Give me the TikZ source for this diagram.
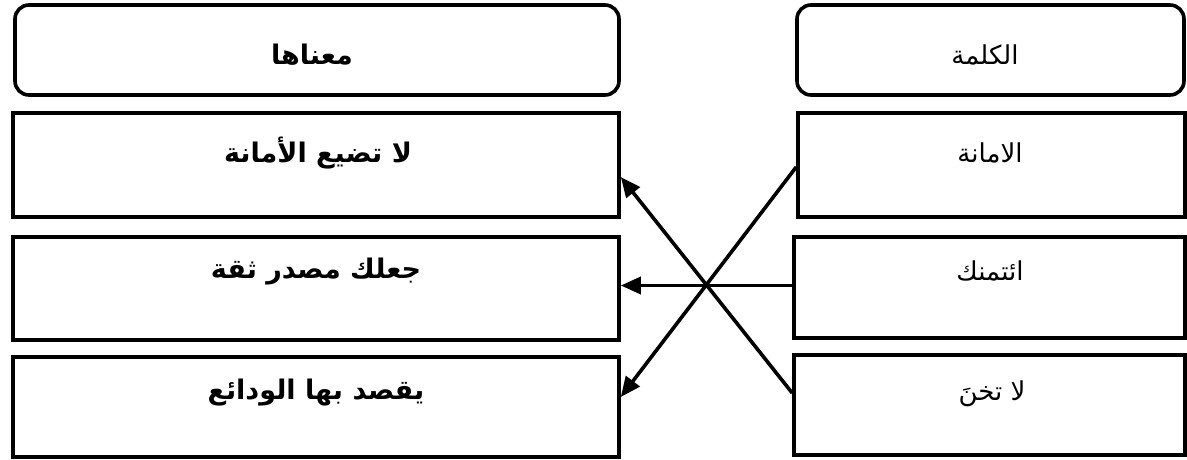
\documentclass[tikz,border=0pt]{standalone}
\usepackage{fontspec}
\usetikzlibrary{arrows.meta,calc}
\TeXXeTstate=1
\newfontfamily\arabicfont[Script=Arabic]{DejaVu Sans}
\tikzset{
  box/.style={draw=black, line width=3.6pt, rectangle, inner sep=0pt},
  headbox/.style={box, rounded corners=14pt},
  lbl/.style={font=\arabicfont\fontsize{26}{30}\selectfont, inner sep=0pt},
  blbl/.style={font=\arabicfont\bfseries\fontsize{27}{31}\selectfont, inner sep=0pt},
  conn/.style={line width=3.6pt, -{Triangle[length=20pt,width=17pt]}}
}
\begin{document}
\begin{tikzpicture}[x=1pt,y=-1pt]
\useasboundingbox (0,0) rectangle (1187,459);
% headers
\node[headbox, minimum width=604pt, minimum height=90pt] (lh) at (317,50) {};
\node[headbox, minimum width=387pt, minimum height=90pt] (rh) at (990.5,50) {};
\node[blbl] (lht) at (312,55) {\beginR معناها\endR};
\node[lbl] (rht) at (985,55) {\beginR الكلمة\endR};
% left boxes
\node[box, minimum width=606pt, minimum height=104pt] (lb1) at (316,165) {};
\node[box, minimum width=606pt, minimum height=103pt] (lb2) at (316,288.5) {};
\node[box, minimum width=606pt, minimum height=100pt] (lb3) at (316,407) {};
\node[blbl] (lt1) at (318,153) {\beginR لا تضيع الأمانة\endR};
\node[blbl] (lt2) at (316,272) {\beginR جعلك مصدر ثقة\endR};
\node[blbl] (lt3) at (316,393) {\beginR يقصد بها الودائع\endR};
% right boxes
\node[box, minimum width=387pt, minimum height=104pt] (rb1) at (991.5,165) {};
\node[box, minimum width=391pt, minimum height=101pt] (rb2) at (989.5,287.5) {};
\node[box, minimum width=391pt, minimum height=100pt] (rb3) at (989.5,405) {};
\node[lbl] (rt1) at (990,153) {\beginR الامانة\endR};
\node[lbl] (rt2) at (990,271) {\beginR ائتمنك\endR};
\node[lbl] (rt3) at (992,394) {\beginR لا تخنَ\endR};
% connectors
\draw[conn] ([yshift=-2pt]rb1.west) -- ([yshift=10pt]lb3.east);
\draw[conn] ([yshift=12pt]rb3.west) -- ([yshift=-12pt]lb1.east);
\draw[conn] ([yshift=2pt]rb2.west) -- ([yshift=2pt]rb2.west -| lb2.east);
\end{tikzpicture}
\end{document}
